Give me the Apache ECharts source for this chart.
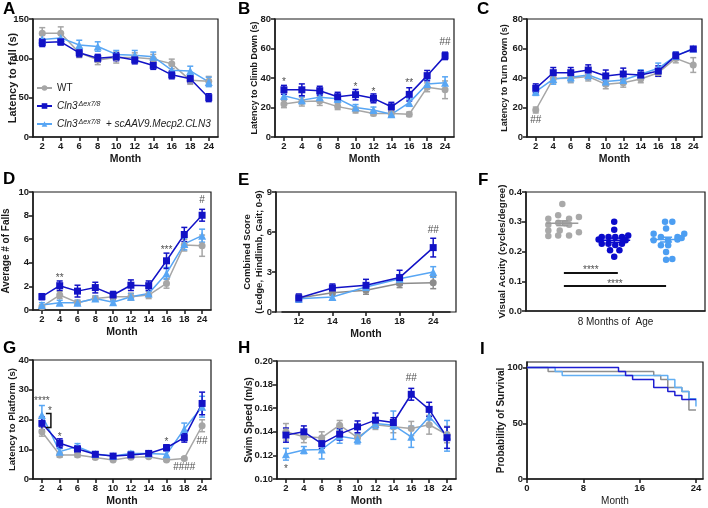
<!DOCTYPE html>
<html><head><meta charset="utf-8">
<script src="https://cdn.jsdelivr.net/npm/echarts@6/dist/echarts.min.js"></script>
<style>html,body{margin:0;padding:0;background:#fff}#c{width:708px;height:508px}</style>
</head><body><div id="c"></div>
<script>
// ---------------- DATA ----------------
const months = ['2','4','6','8','10','12','14','16','18','24'];
const monthsE = ['12','14','16','18','24'];
const groupNames = ['WT','Cln3Δex7/8','Cln3Δex7/8 + scAAV9.Mecp2.CLN3'];

// A: Latency to fall (s)
const aWT = [132,132,107,98,101,101,99,93,72,71];   const aWTe = [7,8,6,6,7,6,6,6,5,6];
const aKO = [120,121,107,100,102,98,91,79,74,50];   const aKOe = [5,4,5,5,5,5,5,5,5,5];
const aTx = [124,126,117,115,105,104,102,85,84,70]; const aTxe = [6,5,6,6,5,6,6,6,6,6];
// B: Latency to Climb Down (s)
const bWT = [22.4,24,24.4,20.6,18.3,16,16,15.4,33.7,32];   const bWTe = [2.5,3,3,2,2,1.5,2,1.5,3,6];
const bKO = [32,32,31.4,27.3,28.7,26.2,20.5,28.9,41.6,55]; const bKOe = [3,4,3,3,3.5,3,3,4.5,3.5,2.5];
const bTx = [28,25,27,26,20,18.3,15.4,23.3,36,36.8];       const bTxe = [2.5,2.5,2,2.5,2,2,1.5,2.5,3,4];
const bAnn = [['2',39,'*'],['10',36,'*'],['12',32.5,'*'],['16',38.6,'**'],['24',64,'##']];
// C: Latency to Turn Down (s)
const cWT = [18.3,39.6,39.8,41,35.7,36.8,39.3,43.6,53.3,48.8]; const cWTe = [2,3,3,3,3,3,2.5,2.5,3,5];
const cKO = [33,43.6,43.6,45.4,41.4,42.7,42,44.7,55,59.7];     const cKOe = [3,3.5,3.5,3.5,4,4,3,3.5,2.5,1];
const cTx = [30.7,39.3,40.5,42,37.7,38.6,42.5,46.6,55,60];     const cTxe = [2.5,3.5,3,3,3,3,3,3.5,2.5,1];
const cAnn = [['2',11.5,'##']];
// D: Average # of Falls
const dWT = [0.28,1.27,0.62,0.98,1.13,1.13,1.27,2.25,5.5,5.45]; const dWTe = [0.15,0.3,0.2,0.2,0.3,0.3,0.3,0.4,0.5,0.9];
const dKO = [1.13,2.06,1.6,1.9,1.27,2.1,2.06,4.17,6.4,8.03];    const dKOe = [0.25,0.4,0.5,0.45,0.3,0.45,0.4,0.65,0.6,0.5];
const dTx = [0.42,0.62,0.62,0.98,0.65,1.13,1.4,3.1,5.6,6.3];    const dTxe = [0.2,0.2,0.2,0.2,0.2,0.25,0.25,0.5,0.5,0.55];
const dAnn = [['4',2.96,'**'],['16',5.35,'***'],['24',9.3,'#']];
// E: Combined Score
const eWT = [1.05,1.45,1.63,2.13,2.2]; const eWTe = [0.25,0.2,0.3,0.3,0.45];
const eKO = [1.05,1.8,2.0,2.58,4.83];  const eKOe = [0.3,0.3,0.45,0.55,0.7];
const eTx = [1.0,1.13,1.88,2.5,3.0];   const eTxe = [0.2,0.2,0.25,0.3,0.4];
const eAnn = [['24',6.1,'##']];
// F: Visual acuity, individual animals [group position + jitter, value]
const fWT = [[1.0,0.36],[0.73,0.31],[0.92,0.322],[1.13,0.31],[1.32,0.316],[0.73,0.29],[0.92,0.297],[1.13,0.29],[1.05,0.295],
             [0.73,0.271],[0.95,0.271],[0.73,0.252],[0.92,0.254],[1.13,0.254],[1.32,0.265]];
const fKO = [[2.0,0.30],[2.0,0.273],[1.76,0.249],[1.89,0.249],[2.02,0.249],[2.15,0.249],[2.27,0.254],[1.76,0.226],
             [1.89,0.226],[2.02,0.222],[2.15,0.226],[1.92,0.204],[2.1,0.204],[2.0,0.182],[1.7,0.24],[2.22,0.238]];
const fTx = [[2.98,0.30],[3.12,0.30],[3.0,0.277],[2.76,0.26],[3.35,0.26],[2.9,0.249],[3.22,0.249],[2.76,0.238],[3.04,0.238],
             [3.22,0.24],[2.9,0.221],[3.04,0.221],[3.0,0.198],[3.0,0.172],[3.12,0.175],[3.3,0.245]];
const fMean = [[1,0.295,0.008],[2,0.238,0.007],[3,0.240,0.008]];
const fSig = [[1.03,2.07,0.128,0.148],[1.03,3.0,0.084,0.101]];
// G: Latency to Platform (s)
const gWT = [15.9,8.1,8.1,7.2,6.4,7.3,7.5,6.4,6.9,17.9];   const gWTe = [1.5,0.8,0.7,0.5,0.4,0.5,0.5,0.4,0.4,2];
const gKO = [18.7,12,10.1,8.3,7.7,8.1,8.6,10.5,13.9,25.4]; const gKOe = [2.2,1.5,1,0.8,0.6,0.7,0.7,1,1.5,3.8];
const gTx = [21.5,9.2,10.9,8.4,7.7,8.6,8.6,8.3,16.8,24.3]; const gTxe = [3.2,1,1,0.8,0.6,0.7,0.6,1.5,2,3.5];
const gAnn = [['2',27.3,'****'],['2',23.8,'*',8],['4',15,'*'],['16',13.4,'*'],['24',12.8,'##'],['18',3.8,'####']];
const gBracket = [['2',22,17.3]];
// H: Swim Speed (m/s)
const hWT = [0.140,0.1358,0.135,0.1456,0.135,0.146,0.1442,0.1428,0.146,0.1377]; const hWTe = [0.007,0.005,0.005,0.004,0.004,0.004,0.005,0.006,0.008,0.007];
const hKO = [0.1372,0.140,0.130,0.138,0.1442,0.1499,0.1479,0.1718,0.159,0.135]; const hKOe = [0.006,0.005,0.004,0.005,0.005,0.006,0.004,0.005,0.006,0.009];
const hTx = [0.121,0.1245,0.125,0.1363,0.1338,0.147,0.1456,0.1358,0.1527,0.1366]; const hTxe = [0.005,0.003,0.008,0.006,0.004,0.004,0.012,0.009,0.006,0.013];
const hAnn = [['16',0.185,'##'],['2',0.111,'*']];
// I: survival (month, probability %)
const iWT = [[0,100],[3,96.4],[18,92.8],[19,89.3],[20,82.1],[22,78.6],[23,62],[24,62]];
const iKO = [[0,100],[13,96.4],[14,92.8],[15,89.3],[18,82.1],[20,78.6],[21,75],[22,71.4],[24,71.4]];
const iTx = [[0,100],[4,96.4],[5,92.8],[20,89.3],[21,82.1],[22,78.6],[23,72],[24,65]];

// ---------------- STYLE ----------------
const FONT = '"Liberation Sans", Arial, Helvetica, sans-serif';
const AX = '#1a1a1a';
const COL = ['#A6A6A6', '#1212C6', '#58A6F4'];
const SYM = ['circle', 'rect', 'triangle'];
const SYMSZ = [7, 7, 8];
const LBL = 9.5;

const grids = [], xAxes = [], yAxes = [], series = [];

function baseAxis(gi) {
  return {
    gridIndex: gi,
    axisLine: {show: true, onZero: false, lineStyle: {color: AX, width: 1.5}},
    axisTick: {show: true, inside: false, length: 4, lineStyle: {color: AX, width: 1.5}},
    axisLabel: {color: AX, fontFamily: FONT, fontWeight: 'bold', fontSize: LBL, margin: 4},
    splitLine: {show: false},
    nameTextStyle: {color: AX, fontFamily: FONT, fontWeight: 'bold', fontSize: 10},
    nameLocation: 'middle',
    nameMoveOverlap: false
  };
}
function frameGrid(l, t, w, h) {
  grids.push({left: l, top: t, width: w, height: h, show: true, borderColor: AX, borderWidth: 1.2, backgroundColor: 'rgba(0,0,0,0)'});
  return grids.length - 1;
}
function errSeries(gi, vals, errs, color, cap) {
  return {
    type: 'custom', xAxisIndex: gi, yAxisIndex: gi, silent: true, z: 2,
    data: vals.map((v, i) => [i, v - errs[i], v + errs[i]]),
    encode: {x: 0, y: [1, 2]},
    renderItem(params, api) {
      const x = api.value(0);
      const lo = api.coord([x, api.value(1)]), hi = api.coord([x, api.value(2)]);
      const hw = cap / 2, st = {stroke: color, lineWidth: 1.5};
      return {type: 'group', children: [
        {type: 'line', shape: {x1: lo[0], y1: lo[1], x2: hi[0], y2: hi[1]}, style: st},
        {type: 'line', shape: {x1: lo[0] - hw, y1: lo[1], x2: lo[0] + hw, y2: lo[1]}, style: st},
        {type: 'line', shape: {x1: hi[0] - hw, y1: hi[1], x2: hi[0] + hw, y2: hi[1]}, style: st}
      ]};
    }
  };
}
function annSeries(gi, cats, list) {
  return {
    type: 'scatter', xAxisIndex: gi, yAxisIndex: gi, silent: true, z: 6, symbolSize: 1,
    itemStyle: {color: 'rgba(0,0,0,0)'},
    data: list.map(a => ({value: [cats.indexOf(a[0]), a[1]], label: {offset: [a[3] || 0, a[2].indexOf('*') >= 0 ? 3 : 0]}})),
    label: {show: true, position: 'inside', color: '#222', fontFamily: FONT, fontSize: 10,
      formatter: p => list[p.dataIndex][2]}
  };
}
function linePanel(o) {
  let gi;
  if (o.frame) {
    frameGrid(o.frame[0], o.frame[1], o.frame[2], o.frame[3]);
    const fg = grids.length - 1;
    xAxes.push({gridIndex: fg, type: 'value', show: false});
    yAxes.push({gridIndex: fg, type: 'value', show: false});
    grids.push({left: o.l, top: o.t, width: o.w, height: o.h, show: false});
    gi = grids.length - 1;
  } else {
    gi = frameGrid(o.l, o.t, o.w, o.h);
  }
  const xa = Object.assign(baseAxis(gi), {
    type: 'category', data: o.cats, boundaryGap: true, name: 'Month', nameGap: o.xGap || 17,
    axisTick: {show: true, alignWithLabel: true, length: 4, lineStyle: {color: AX, width: 1.5}}
  });
  xa.nameTextStyle = Object.assign({}, xa.nameTextStyle, {fontSize: o.xfs || 10.5});
  xAxes.push(xa);
  const ya = Object.assign(baseAxis(gi), {
    type: 'value', min: o.min, max: o.max, interval: o.int, name: o.name, nameGap: o.yGap, offset: o.yOff || 0
  });
  if (o.fmt) ya.axisLabel = Object.assign({}, ya.axisLabel, {formatter: o.fmt});
  ya.nameTextStyle = Object.assign({}, ya.nameTextStyle, {fontSize: o.yfs || 10});
  if (o.lh) ya.nameTextStyle.lineHeight = o.lh;
  yAxes.push(ya);
  const cols = o.cols || COL;
  const order = [0, 2, 1];
  order.forEach(k => series.push(errSeries(gi, o.v[k], o.e[k], cols[k], 6)));
  order.forEach(k => series.push({
    type: 'line', name: groupNames[k], xAxisIndex: gi, yAxisIndex: gi, z: 3,
    data: o.v[k], symbol: SYM[k], symbolSize: SYMSZ[k], color: cols[k],
    lineStyle: {width: 1.5, color: cols[k]}, itemStyle: {color: cols[k]}
  }));
  if (o.ann) series.push(annSeries(gi, o.cats, o.ann));
  return gi;
}

// A
linePanel({l: 33, t: 19, w: 185, h: 118, cats: months, min: 0, max: 150, int: 50, name: 'Latency to fall (s)', yGap: 15, yfs: 11,
  v: [aWT, aKO, aTx], e: [aWTe, aKOe, aTxe]});
// B
linePanel({l: 275, t: 19, w: 179, h: 118, cats: months, min: 0, max: 80, int: 20, name: 'Latency to Climb Down (s)', yGap: 16, yfs: 9,
  v: [bWT, bKO, bTx], e: [bWTe, bKOe, bTxe], ann: bAnn});
// C
linePanel({l: 527, t: 19, w: 175, h: 118, cats: months, min: 0, max: 80, int: 20, name: 'Latency to Turn Down (s)', yGap: 18, yfs: 9,
  v: [cWT, cKO, cTx], e: [cWTe, cKOe, cTxe], ann: cAnn});
// D
linePanel({l: 33, t: 192, w: 178, h: 118, cats: months, min: 0, max: 10, int: 2, name: 'Average # of Falls', yGap: 22, yfs: 10,
  v: [dWT, dKO, dTx], e: [dWTe, dKOe, dTxe], ann: dAnn});
// E
linePanel({frame: [276, 192, 180, 120], l: 282, t: 192, w: 168, h: 120, yOff: 6, cats: monthsE, min: 0, max: 9, int: 3,
  name: 'Combined Score\n(Ledge, Hindlimb, Gait; 0-9)', yGap: 11, yfs: 9.5, lh: 12,
  cols: ['#8C8C8C', COL[1], COL[2]],
  v: [eWT, eKO, eTx], e: [eWTe, eKOe, eTxe], ann: eAnn});

// F
(function () {
  const gi = frameGrid(526, 192, 179, 119);
  const xa = Object.assign(baseAxis(gi), {type: 'value', min: 0.3, max: 3.75, name: '8 Months of  Age', nameGap: 6,
    axisTick: {show: false}, axisLabel: {show: false}});
  xa.nameTextStyle = {color: AX, fontFamily: FONT, fontWeight: 'normal', fontSize: 10};
  xAxes.push(xa);
  const ya = Object.assign(baseAxis(gi), {type: 'value', min: 0, max: 0.4, interval: 0.1, name: 'Visual Acuity (cycles/degree)', nameGap: 19});
  ya.axisLabel = Object.assign({}, ya.axisLabel, {formatter: v => v.toFixed(1)});
  ya.nameTextStyle = Object.assign({}, ya.nameTextStyle, {fontSize: 9.7});
  yAxes.push(ya);
  const cols = ['#A9A9A9', '#0A0ACB', '#4C9EF2'];
  [fWT, fKO, fTx].forEach((d, k) => series.push({
    type: 'scatter', name: groupNames[k], xAxisIndex: gi, yAxisIndex: gi, data: d, symbolSize: 6.5, z: 2,
    itemStyle: {color: cols[k], opacity: 1}
  }));
  series.push({
    type: 'custom', xAxisIndex: gi, yAxisIndex: gi, silent: true, z: 4, data: fMean,
    renderItem(params, api) {
      const x = api.value(0), m = api.value(1), s = api.value(2);
      const c = ['#9A9A9A', '#0A0ACB', '#4C9EF2'][params.dataIndex];
      const pm = api.coord([x, m]), pl = api.coord([x, m - s]), ph = api.coord([x, m + s]);
      const st = {stroke: c, lineWidth: 1.5};
      return {type: 'group', children: [
        {type: 'line', shape: {x1: pm[0] - 16, y1: pm[1], x2: pm[0] + 16, y2: pm[1]}, style: st},
        {type: 'line', shape: {x1: pl[0], y1: pl[1], x2: ph[0], y2: ph[1]}, style: st},
        {type: 'line', shape: {x1: pl[0] - 6, y1: pl[1], x2: pl[0] + 6, y2: pl[1]}, style: st},
        {type: 'line', shape: {x1: ph[0] - 6, y1: ph[1], x2: ph[0] + 6, y2: ph[1]}, style: st}
      ]};
    }
  });
  fSig.forEach(s => {
    series.push({type: 'line', xAxisIndex: gi, yAxisIndex: gi, silent: true, symbol: 'none', z: 5,
      data: [[s[0], s[2]], [s[1], s[2]]], lineStyle: {color: '#111', width: 2}});
  });
  series.push({type: 'scatter', xAxisIndex: gi, yAxisIndex: gi, silent: true, symbolSize: 1, z: 6,
    itemStyle: {color: 'rgba(0,0,0,0)'},
    data: fSig.map(s => [(s[0] + s[1]) / 2, s[3]]),
    label: {show: true, position: 'inside', formatter: '****', color: '#222', fontFamily: FONT, fontSize: 10, offset: [0, 3]}});
})();

// G
(function () {
  const gi = linePanel({l: 33, t: 360, w: 178, h: 119, cats: months, min: 0, max: 40, int: 10, name: 'Latency to Platform (s)', yGap: 16, yfs: 9.5,
    v: [gWT, gKO, gTx], e: [gWTe, gKOe, gTxe], ann: gAnn});
  series.push({
    type: 'custom', xAxisIndex: gi, yAxisIndex: gi, silent: true, z: 5,
    data: gBracket.map(b => [months.indexOf(b[0]), b[1], b[2]]),
    renderItem(params, api) {
      const t = api.coord([api.value(0), api.value(1)]), b = api.coord([api.value(0), api.value(2)]);
      return {type: 'polyline', shape: {points: [[t[0] + 4, t[1]], [t[0] + 9, t[1]], [b[0] + 9, b[1]], [b[0] + 4, b[1]]]},
        style: {stroke: '#111', lineWidth: 1.5, fill: null}};
    }
  });
})();
// H
linePanel({l: 277, t: 361, w: 179, h: 118, cats: months, min: 0.1, max: 0.2, int: 0.02, name: 'Swim Speed (m/s)', yGap: 23, yfs: 10,
  fmt: v => v.toFixed(2), v: [hWT, hKO, hTx], e: [hWTe, hKOe, hTxe], ann: hAnn});

// I
(function () {
  const gi = frameGrid(527, 362, 176, 117);
  const xa = Object.assign(baseAxis(gi), {type: 'value', min: 0, max: 25, interval: 8, name: 'Month', nameGap: 17,
    axisTick: {show: true, length: 4, lineStyle: {color: AX, width: 1.5}, customValues: [0, 8, 16, 24]}});
  xa.axisLabel = Object.assign({}, xa.axisLabel, {customValues: [0, 8, 16, 24], formatter: v => (v % 8 === 0 ? String(v) : '')});
  xa.nameTextStyle = {color: AX, fontFamily: FONT, fontWeight: 'normal', fontSize: 10};
  xAxes.push(xa);
  const ya = Object.assign(baseAxis(gi), {type: 'value', min: 0, max: 105, interval: 50, name: 'Probability of Survival', nameGap: 21,
    axisTick: {show: true, length: 4, lineStyle: {color: AX, width: 1.5}, customValues: [0, 50, 100]}});
  ya.axisLabel = Object.assign({}, ya.axisLabel, {customValues: [0, 50, 100], formatter: v => (v % 50 === 0 ? String(v) : '')});
  yAxes.push(ya);
  const cols = ['#8E8E8E', '#1E1ED2', '#62AEF2'];
  [iWT, iTx, iKO].forEach((d, j) => {
    const k = [0, 2, 1][j];
    series.push({type: 'line', name: groupNames[k], xAxisIndex: gi, yAxisIndex: gi, step: 'end', symbol: 'none', z: 3,
      data: d, color: cols[k], lineStyle: {color: cols[k], width: 1.5}});
  });
})();

// ---------------- CHART ----------------
const letters = [['A', 3, 1], ['B', 238, 1], ['C', 477, 1], ['D', 3, 171], ['E', 238, 172], ['F', 478, 172], ['G', 3, 340], ['H', 238, 340], ['I', 480, 341]];

const chart = echarts.init(document.getElementById('c'), null, {renderer: 'canvas'});
chart.setOption({
  backgroundColor: '#fff',
  animation: false,
  textStyle: {fontFamily: FONT},
  grid: grids, xAxis: xAxes, yAxis: yAxes, series: series,
  legend: {
    data: groupNames, orient: 'vertical', left: 36, top: 83, padding: 0, itemWidth: 15, itemHeight: 7, itemGap: 8,
    selectedMode: false,
    textStyle: {fontFamily: FONT, fontSize: 10, color: '#222',
      rich: {
        i: {fontFamily: FONT, fontStyle: 'italic', fontSize: 10, color: '#222'},
        s: {fontFamily: FONT, fontStyle: 'italic', fontSize: 7, color: '#222', verticalAlign: 'top', padding: [0, 0, 0, 1]},
        n: {fontFamily: FONT, fontSize: 10, color: '#222'}
      }},
    formatter: n => n === groupNames[0] ? 'WT' :
      (n === groupNames[1] ? '{i|Cln3}{s|Δex7/8}' : '{i|Cln3}{s|Δex7/8}{n|  + }{i|scAAV9.Mecp2.CLN3}')
  },
  graphic: letters.map(L => ({type: 'text', left: L[1], top: L[2], silent: true,
    style: {text: L[0], font: 'bold 17px ' + FONT, fill: '#000'}}))
});
</script></body></html>
